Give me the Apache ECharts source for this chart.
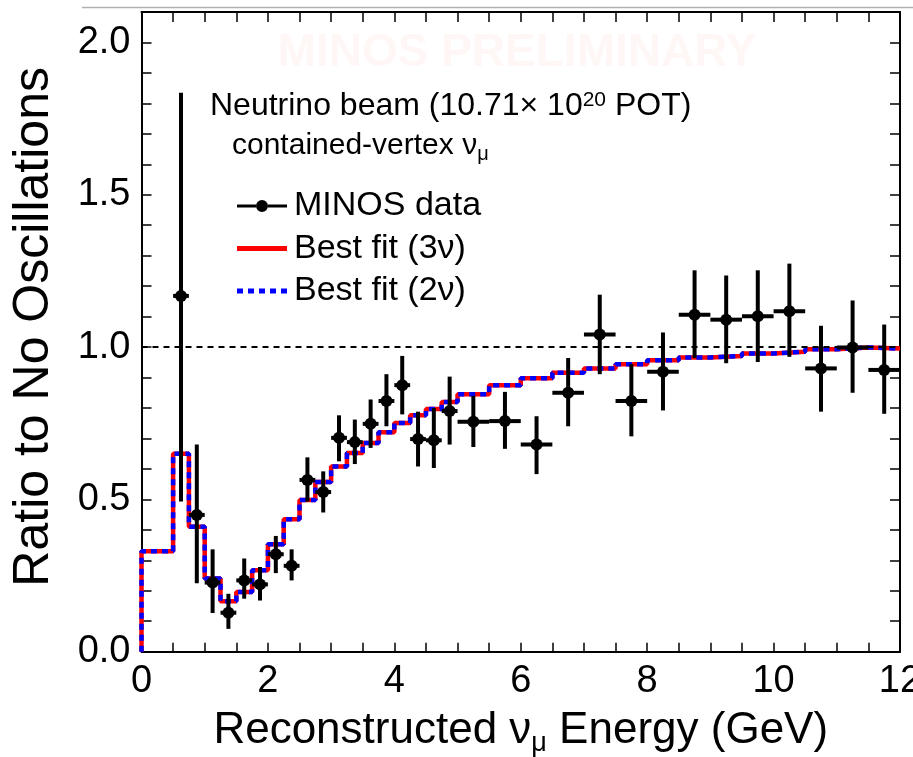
<!DOCTYPE html>
<html>
<head>
<meta charset="utf-8">
<script src="https://cdn.jsdelivr.net/npm/echarts@6/dist/echarts.min.js"></script>
<style>
  html, body { margin: 0; padding: 0; background: #fff; }
  #chart { width: 913px; height: 757px; }
</style>
</head>
<body>
<div id="chart"></div>
<script>
// Bin centres (GeV) of the measured ratio points
const binCenters = [0.625, 0.875, 1.125, 1.375, 1.625, 1.875, 2.125, 2.375, 2.625, 2.875,
  3.125, 3.375, 3.625, 3.875, 4.125, 4.375, 4.625, 4.875, 5.25, 5.75,
  6.25, 6.75, 7.25, 7.75, 8.25, 8.75, 9.25, 9.75, 10.25, 10.75, 11.25, 11.75];
// Half bin widths (horizontal error bars)
const binHalfWidths = [0.125, 0.125, 0.125, 0.125, 0.125, 0.125, 0.125, 0.125, 0.125, 0.125,
  0.125, 0.125, 0.125, 0.125, 0.125, 0.125, 0.125, 0.125, 0.25, 0.25,
  0.25, 0.25, 0.25, 0.25, 0.25, 0.25, 0.25, 0.25, 0.25, 0.25, 0.25, 0.25];
// Data / no-oscillation ratio and its error band
const ratio = [1.168, 0.449, 0.227, 0.128, 0.234, 0.221, 0.320, 0.282, 0.564, 0.524,
  0.702, 0.688, 0.748, 0.823, 0.875, 0.698, 0.694, 0.790, 0.755, 0.757,
  0.680, 0.850, 1.041, 0.823, 0.919, 1.106, 1.090, 1.101, 1.118, 0.930, 0.999, 0.925];
const ratioLow = [0.493, 0.225, 0.127, 0.075, 0.174, 0.168, 0.258, 0.234, 0.493, 0.457,
  0.625, 0.616, 0.669, 0.740, 0.779, 0.608, 0.603, 0.680, 0.672, 0.666,
  0.583, 0.740, 0.911, 0.707, 0.792, 0.964, 0.947, 0.951, 0.968, 0.788, 0.850, 0.781];
const ratioHigh = [1.835, 0.680, 0.336, 0.190, 0.306, 0.278, 0.380, 0.336, 0.638, 0.592,
  0.776, 0.762, 0.828, 0.911, 0.971, 0.788, 0.800, 0.903, 0.840, 0.853,
  0.773, 0.964, 1.172, 0.944, 1.048, 1.252, 1.235, 1.252, 1.274, 1.070, 1.153, 1.074];

// Histogram bin low edges for the best-fit predictions (last entry is the upper edge)
const fitEdges = [0, 0.5, 0.75, 1.0, 1.25, 1.5, 1.75, 2.0, 2.25, 2.5, 2.75, 3.0, 3.25, 3.5,
  3.75, 4.0, 4.25, 4.5, 4.75, 5.0, 5.5, 6.0, 6.5, 7.0, 7.5, 8.0, 8.5, 9.0, 9.5, 10.0,
  10.5, 11.0, 11.5, 12.0];
const fit3nu = [0.330, 0.650, 0.410, 0.240, 0.166, 0.196, 0.267, 0.353, 0.435, 0.498,
  0.557, 0.608, 0.652, 0.685, 0.720, 0.751, 0.776, 0.797, 0.820, 0.845, 0.875, 0.898,
  0.916, 0.930, 0.944, 0.957, 0.966, 0.971, 0.979, 0.985, 0.993, 0.999, 0.995];
const fit2nu = [0.330, 0.650, 0.410, 0.240, 0.166, 0.196, 0.267, 0.353, 0.435, 0.498,
  0.557, 0.608, 0.652, 0.685, 0.720, 0.751, 0.776, 0.797, 0.820, 0.845, 0.875, 0.898,
  0.916, 0.930, 0.944, 0.957, 0.966, 0.971, 0.979, 0.985, 0.993, 0.999, 0.995];

const xTickLabels = ['0', '2', '4', '6', '8', '10', '12'];
const yTickLabels = ['0.0', '0.5', '1.0', '1.5', '2.0'];

// Build step-histogram polylines: start at zero on the lower edge
function histPoints(edges, vals) {
  const pts = [[edges[0], 0]];
  for (let i = 0; i < vals.length; i++) pts.push([edges[i], vals[i]]);
  pts.push([edges[edges.length - 1], vals[vals.length - 1]]);
  return pts;
}

const pointData = binCenters.map((x, i) => [x, ratio[i], ratioLow[i], ratioHigh[i], binHalfWidths[i]]);

const FONT = '"Liberation Sans", Arial, Helvetica, sans-serif';

const chart = echarts.init(document.getElementById('chart'), null, { renderer: 'canvas' });

const xLabelFmt = v => {
  const idx = Math.round(v / 2);
  return Math.abs(v - idx * 2) < 1e-6 && xTickLabels[idx] !== undefined ? xTickLabels[idx] : '';
};
const yLabelFmt = v => {
  const idx = Math.round(v * 2);
  return Math.abs(v * 2 - idx) < 1e-6 && yTickLabels[idx] !== undefined ? yTickLabels[idx] : '';
};

const frame = { show: true, onZero: false, lineStyle: { color: '#000', width: 2 } };
const tickStyle = { color: '#000', width: 1.5 };

chart.setOption({
  animation: false,
  backgroundColor: '#fff',
  grid: { left: 141.5, right: 13, top: 12, bottom: 105.3, containLabel: false, outerBoundsMode: 'none' },
  xAxis: [
    {
      type: 'value', min: 0, max: 12, interval: 0.5, position: 'bottom',
      axisLine: frame,
      axisTick: { show: true, inside: true, length: 9, lineStyle: tickStyle },
      splitLine: { show: false },
      axisLabel: { formatter: xLabelFmt, color: '#000', fontFamily: FONT, fontSize: 38, margin: 11, hideOverlap: false },
      name: 'Reconstructed ν{sub|μ} Energy (GeV)',
      nameLocation: 'middle', nameGap: 54,
      nameTextStyle: {
        color: '#000', fontFamily: FONT, fontSize: 44,
        rich: { sub: { fontFamily: FONT, fontSize: 27, verticalAlign: 'bottom', padding: [24, 0, 0, 0], color: '#000' } }
      }
    },
    {
      type: 'value', min: 0, max: 12, interval: 0.5, position: 'top',
      axisLine: frame,
      axisTick: { show: true, inside: true, length: 10, lineStyle: tickStyle },
      axisLabel: { show: false }, splitLine: { show: false }
    }
  ],
  yAxis: [
    {
      type: 'value', min: 0, max: 2.1, interval: 0.1, position: 'left',
      axisLine: frame,
      axisTick: { show: true, inside: true, length: 10, lineStyle: tickStyle },
      splitLine: { show: false },
      axisLabel: { formatter: yLabelFmt, color: '#000', fontFamily: FONT, fontSize: 38, margin: 11 },
      name: 'Ratio to No Oscillations',
      nameLocation: 'middle', nameGap: 82, nameRotate: 90,
      nameTextStyle: { color: '#000', fontFamily: FONT, fontSize: 50, padding: [0, 0, 0, 10] }
    },
    {
      type: 'value', min: 0, max: 2.1, interval: 0.1, position: 'right',
      axisLine: frame,
      axisTick: { show: true, inside: true, length: 10, lineStyle: tickStyle },
      axisLabel: { show: false }, splitLine: { show: false }
    }
  ],
  legend: {
    orient: 'vertical', left: 232, top: 184,
    itemWidth: 50, itemHeight: 12, itemGap: 8.5,
    symbolKeepAspect: true,
    textStyle: { color: '#000', fontFamily: FONT, fontSize: 34, padding: [0, 0, 0, 2] },
    selectedMode: false,
    data: [
      { name: 'MINOS data', icon: 'path://M0,4.5H19V7.5H0Z M31,4.5H50V7.5H31Z M19,6A6,6 0 1,0 31,6A6,6 0 1,0 19,6Z' },
      { name: 'Best fit (3ν)', icon: 'path://M0,0H50V5H0Z' },
      { name: 'Best fit (2ν)', icon: 'path://M0,0H6V5H0Z M11,0H17V5H11Z M22,0H28V5H22Z M33,0H39V5H33Z M44,0H50V5H44Z' }
    ]
  },
  graphic: [
    // faint watermark across the top of the frame
    {
      type: 'text', x: 517, y: 53, z: -1,
      style: {
        text: 'MINOS PRELIMINARY', fontFamily: FONT, fontWeight: 'bold', fontSize: 46,
        align: 'center', verticalAlign: 'middle',
        fill: 'rgba(255, 40, 40, 0.045)', textShadowColor: 'rgba(255, 60, 60, 0.10)', textShadowBlur: 9
      }
    },
    {
      type: 'line', z: 1,
      shape: { x1: 82, y1: 7.5, x2: 913, y2: 7.5 },
      style: { stroke: '#b0b0b0', lineWidth: 1.5 }
    },
    {
      type: 'text', left: 210, top: 90,
      style: {
        text: 'Neutrino beam (10.71× 10{sup|20} POT)',
        fontFamily: FONT, fontSize: 32, fill: '#000',
        rich: { sup: { fontFamily: FONT, fontSize: 21, verticalAlign: 'top', padding: [0, 0, 12, 0], fill: '#000' } }
      }
    },
    {
      type: 'text', left: 232, top: 131,
      style: {
        text: 'contained-vertex ν{sub|μ}',
        fontFamily: FONT, fontSize: 30, fill: '#000',
        rich: { sub: { fontFamily: FONT, fontSize: 20, verticalAlign: 'bottom', padding: [16, 0, 0, 0], fill: '#000' } }
      }
    }
  ],
  series: [
    {
      name: 'Best fit (3ν)', type: 'line', step: 'end',
      data: histPoints(fitEdges, fit3nu),
      showSymbol: false, symbol: 'none', z: 2,
      color: '#ff0000',
      lineStyle: { color: '#ff0000', width: 4.5, type: 'solid' },
      markLine: {
        silent: true, symbol: 'none', label: { show: false },
        lineStyle: { color: '#000', width: 2, type: [6, 5] },
        data: [{ yAxis: 1.0 }]
      }
    },
    {
      name: 'Best fit (2ν)', type: 'line', step: 'end',
      data: histPoints(fitEdges, fit2nu),
      showSymbol: false, symbol: 'none', z: 3,
      color: '#0000ff',
      lineStyle: { color: '#0000ff', width: 4.5, type: [6, 5] }
    },
    {
      name: 'MINOS data', type: 'custom', z: 4,
      color: '#000',
      itemStyle: { color: '#000' },
      data: pointData,
      encode: { x: 0, y: 1 },
      renderItem: function (params, api) {
        const x = api.value(0), y = api.value(1);
        const lo = api.value(2), hi = api.value(3), hw = api.value(4);
        const top = api.coord([x, hi]), bot = api.coord([x, lo]);
        const left = api.coord([x - hw, y]), right = api.coord([x + hw, y]);
        const c = api.coord([x, y]);
        return {
          type: 'group',
          children: [
            { type: 'line', shape: { x1: bot[0], y1: bot[1], x2: top[0], y2: top[1] }, style: { stroke: '#000', lineWidth: 4 } },
            { type: 'line', shape: { x1: left[0], y1: left[1], x2: right[0], y2: right[1] }, style: { stroke: '#000', lineWidth: 4 } },
            { type: 'circle', shape: { cx: c[0], cy: c[1], r: 6 }, style: { fill: '#000' } }
          ]
        };
      }
    }
  ]
});
</script>
</body>
</html>
